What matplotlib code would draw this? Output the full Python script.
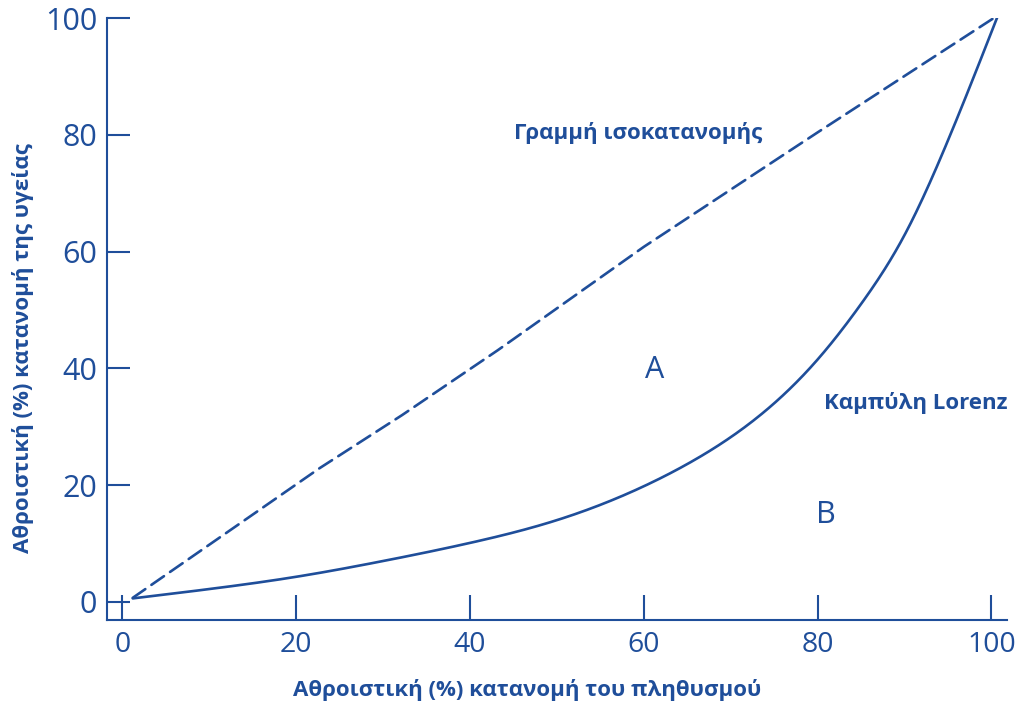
import matplotlib
matplotlib.use("Agg")
import matplotlib.pyplot as plt
import numpy as np

# Cumulative share of population (%) and of health (%) along the Lorenz curve
lorenz_pop = [1.2, 10, 20, 30, 40, 50, 60, 65, 70, 75, 80, 85, 90, 95, 100.7]
lorenz_health = [0.6, 2.2, 4.3, 7.0, 10.1, 14.0, 19.8, 23.6, 28.2, 34.0, 41.5, 51.0, 62.8, 79.0, 100.2]

# Line of perfect equality
equality_pop = [1.2, 22.7, 32.2, 43.2, 60.0, 80.0, 100.6]
equality_health = [0.7, 22.9, 32.0, 43.1, 60.8, 80.4, 100.3]

tick_values = [0, 20, 40, 60, 80, 100]

BLUE = "#1f4e9a"
FAMILY = ["Open Sans", "DejaVu Sans"]


def natural_spline(x, y, xs):
    """Natural cubic spline through the given points, evaluated at xs."""
    x = np.asarray(x, float)
    y = np.asarray(y, float)
    n = len(x)
    h = np.diff(x)
    A = np.zeros((n, n))
    b = np.zeros(n)
    A[0, 0] = A[-1, -1] = 1.0
    for i in range(1, n - 1):
        A[i, i - 1] = h[i - 1]
        A[i, i] = 2 * (h[i - 1] + h[i])
        A[i, i + 1] = h[i]
        b[i] = 6 * ((y[i + 1] - y[i]) / h[i] - (y[i] - y[i - 1]) / h[i - 1])
    M = np.linalg.solve(A, b)
    idx = np.clip(np.searchsorted(x, xs) - 1, 0, n - 2)
    x0, x1 = x[idx], x[idx + 1]
    hh = h[idx]
    return (M[idx] * (x1 - xs) ** 3 / (6 * hh) + M[idx + 1] * (xs - x0) ** 3 / (6 * hh)
            + (y[idx] / hh - M[idx] * hh / 6) * (x1 - xs)
            + (y[idx + 1] / hh - M[idx + 1] * hh / 6) * (xs - x0))


fig = plt.figure(figsize=(10.15, 7.06), dpi=100)
ax = fig.add_axes([0.1051, 0.1218, 0.887, 0.8527])

xs = np.linspace(lorenz_pop[0], lorenz_pop[-1], 500)
ax.plot(xs, natural_spline(lorenz_pop, lorenz_health, xs), color=BLUE, lw=1.9,
        solid_capstyle="round")
ax.plot(equality_pop, equality_health, color=BLUE, lw=1.9,
        dashes=(5.8, 2.8), dash_capstyle="round")

ax.set_xlim(-1.8, 101.8)
ax.set_ylim(-3.1, 100)

for side in ("top", "right"):
    ax.spines[side].set_visible(False)
for side in ("left", "bottom"):
    ax.spines[side].set_color(BLUE)
    ax.spines[side].set_linewidth(1.5)

ax.set_xticks(tick_values)
ax.set_yticks(tick_values)
ax.tick_params(axis="x", direction="in", length=18, width=1.5, color=BLUE,
               labelcolor=BLUE, labelsize=20.5, pad=8)
ax.tick_params(axis="y", direction="in", length=16.5, width=1.5, color=BLUE,
               labelcolor=BLUE, labelsize=22, pad=7)
for lab in ax.get_xticklabels() + ax.get_yticklabels():
    lab.set_family(FAMILY)

ax.set_xlabel("Αθροιστική (%) κατανομή του πληθυσμού", color=BLUE,
              fontsize=16, fontweight="bold", family=FAMILY, va="center")
ax.set_ylabel("Αθροιστική (%) κατανομή της υγείας", color=BLUE,
              fontsize=16, fontweight="bold", family=FAMILY, va="center")
ax.xaxis.set_label_coords(0.467, -0.116)
ax.yaxis.set_label_coords(-0.093, 0.452)

ax.text(45.1, 80.3, "Γραμμή ισοκατανομής", color=BLUE, fontsize=16,
        fontweight="bold", family=FAMILY, ha="left", va="center")
ax.text(80.8, 34.1, "Καμπύλη Lorenz", color=BLUE, fontsize=16,
        fontweight="bold", family=FAMILY, ha="left", va="center")
ax.text(61.3, 39.8, "A", color=BLUE, fontsize=22, family=FAMILY,
        ha="center", va="center")
ax.text(81.0, 14.9, "B", color=BLUE, fontsize=22, family=FAMILY,
        ha="center", va="center")

fig.savefig("out.png", dpi=100)
